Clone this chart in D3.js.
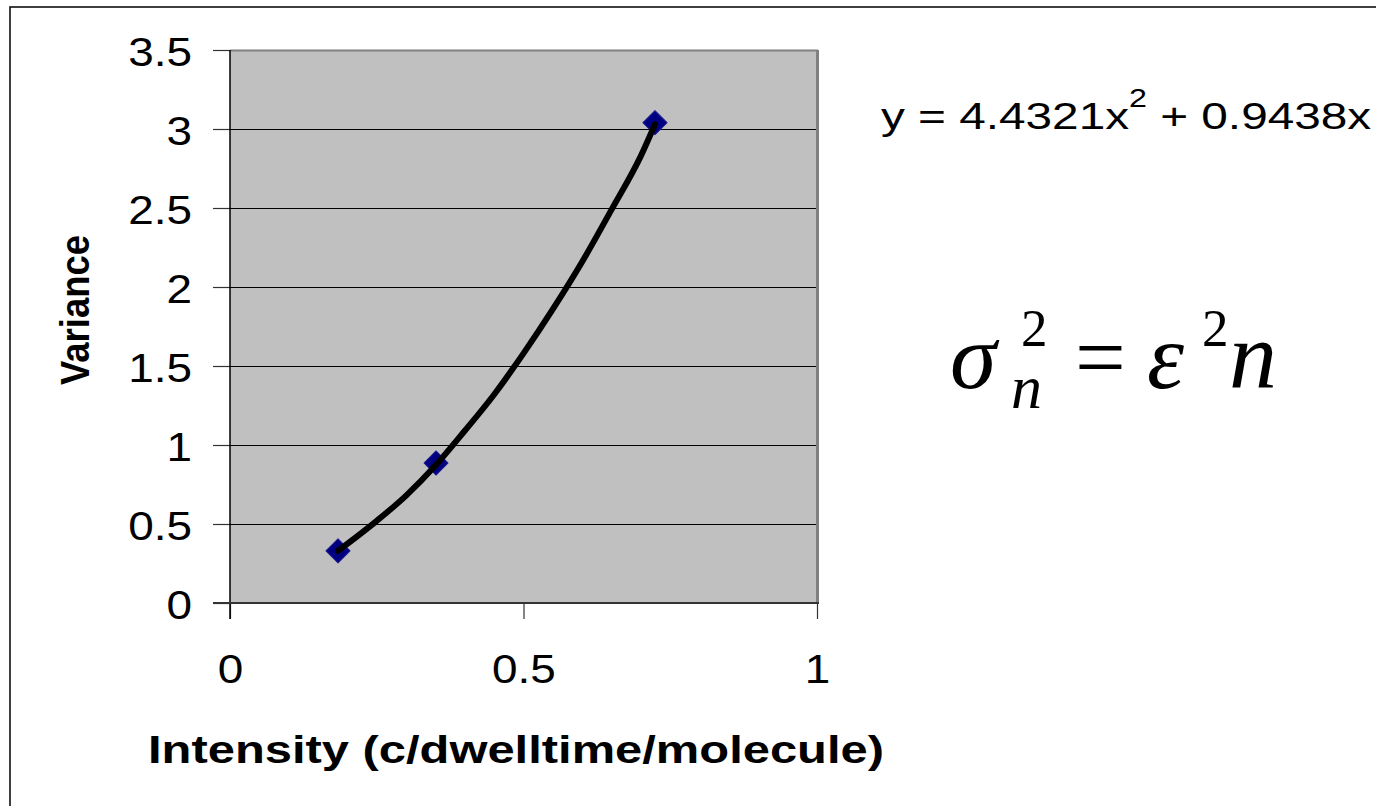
<!DOCTYPE html>
<html><head><meta charset="utf-8">
<script src="https://cdn.jsdelivr.net/npm/d3@7"></script>
<style>body{margin:0;background:#fff}svg{display:block}</style>
</head><body>
<svg id="c" width="1376" height="806"></svg>
<script>
// ---- data ----
const xValues = [0.184, 0.351, 0.724];
const yValues = [0.33, 0.886, 3.04];
// trendline points
const trendX = [0.184, 0.25, 0.3, 0.35, 0.4, 0.45, 0.5, 0.55, 0.6, 0.65, 0.7, 0.724];
const trendY = [0.33, 0.52, 0.68, 0.87, 1.09, 1.32, 1.58, 1.86, 2.16, 2.49, 2.83, 3.03];
const xTicks = [0, 0.5, 1];
const xTickLabels = ["0", "0.5", "1"];
const yTicks = [0, 0.5, 1, 1.5, 2, 2.5, 3, 3.5];
const yTickLabels = ["0", "0.5", "1", "1.5", "2", "2.5", "3", "3.5"];
const xTitle = "Intensity (c/dwelltime/molecule)";
const yTitle = "Variance";
const eqParts = ["y = 4.4321x", "2", " + 0.9438x"];

// ---- layout ----
const svg = d3.select("#c");
const W = 1376, H = 806;
const pL = 230, pR = 817, pT = 50, pB = 603;
const x = d3.scaleLinear().domain([0, 1]).range([pL, pR]);
const y = d3.scaleLinear().domain([0, 3.5]).range([pB, pT]);

svg.append("rect").attr("width", W).attr("height", H).attr("fill", "#fff");
// outer frame
svg.append("rect").attr("x", 10).attr("y", 7).attr("width", W + 20).attr("height", H + 20)
  .attr("fill", "none").attr("stroke", "#000").attr("stroke-width", 1.5);

// plot area
svg.append("rect").attr("x", pL).attr("y", pT).attr("width", pR - pL).attr("height", pB - pT)
  .attr("fill", "#C0C0C0");

// gridlines
svg.append("g").selectAll("line").data(yTicks.filter(d => d > 0 && d < 3.5)).join("line")
  .attr("x1", pL).attr("x2", pR)
  .attr("y1", d => Math.round(y(d)) + 0.5).attr("y2", d => Math.round(y(d)) + 0.5)
  .attr("stroke", "#000").attr("stroke-width", 1);

// plot border top/right (gray)
svg.append("line").attr("x1", pL).attr("x2", pR + 1).attr("y1", pT + 0.5).attr("y2", pT + 0.5)
  .attr("stroke", "#808080").attr("stroke-width", 2);
svg.append("line").attr("x1", pR + 0.5).attr("x2", pR + 0.5).attr("y1", pT).attr("y2", pB)
  .attr("stroke", "#808080").attr("stroke-width", 3);

// axes
const fmtY = d => yTickLabels[yTicks.indexOf(d)];
const fmtX = d => xTickLabels[xTicks.indexOf(d)];
const yAxis = svg.append("g").attr("transform", `translate(${pL},0)`)
  .call(d3.axisLeft(y).tickValues(yTicks).tickFormat(fmtY).tickSize(17).tickSizeOuter(0));
const xAxis = svg.append("g").attr("transform", `translate(0,${pB})`)
  .call(d3.axisBottom(x).tickValues(xTicks).tickFormat(fmtX).tickSize(16).tickSizeOuter(0));
[yAxis, xAxis].forEach(g => {
  g.select(".domain").remove();
  g.selectAll(".tick line").attr("stroke", "#333").attr("stroke-width", 1.2);
});
svg.append("line").attr("x1", pL).attr("x2", pL).attr("y1", pT).attr("y2", pB + 16)
  .attr("stroke", "#000").attr("stroke-width", 1.5);
svg.append("line").attr("x1", pL - 17).attr("x2", pR + 2).attr("y1", pB).attr("y2", pB)
  .attr("stroke", "#333").attr("stroke-width", 2);

yAxis.selectAll(".tick text")
  .attr("x", null).attr("dy", null)
  .attr("font-family", "Liberation Sans, Arial, sans-serif").attr("font-size", 41).attr("fill", "#000")
  .attr("text-anchor", "end")
  .attr("transform", "translate(-38,15) scale(1.12,1)");
xAxis.selectAll(".tick text")
  .attr("y", null).attr("dy", null)
  .attr("font-family", "Liberation Sans, Arial, sans-serif").attr("font-size", 41).attr("fill", "#000")
  .attr("text-anchor", "middle")
  .attr("transform", "translate(0,80) scale(1.12,1)");

// markers (drawn under the trendline)
const pts = xValues.map((v, i) => [v, yValues[i]]);
svg.append("g").selectAll("path").data(pts).join("path")
  .attr("d", d3.symbol().type(d3.symbolSquare).size(290))
  .attr("transform", d => `translate(${x(d[0])},${y(d[1])}) rotate(45)`)
  .attr("fill", "#000080").attr("stroke", "#1a1a90").attr("stroke-width", 1)
  .attr("stroke-linejoin", "round");

// trendline
const tpts = trendX.map((v, i) => [v, trendY[i]]);
svg.append("path").datum(tpts)
  .attr("d", d3.line().x(d => x(d[0])).y(d => y(d[1])).curve(d3.curveMonotoneX))
  .attr("fill", "none").attr("stroke", "#000").attr("stroke-width", 6).attr("stroke-linecap", "round")
  .attr("stroke-linejoin", "round");

// axis titles
svg.append("text").text(xTitle)
  .attr("x", (148 + 884) / 2).attr("y", 763)
  .attr("text-anchor", "middle")
  .attr("font-family", "Liberation Sans, Arial, sans-serif").attr("font-weight", "bold")
  .attr("font-size", 39).attr("textLength", 736).attr("lengthAdjust", "spacingAndGlyphs");
svg.append("text").text(yTitle)
  .attr("transform", "translate(89,310) rotate(-90)")
  .attr("text-anchor", "middle")
  .attr("font-family", "Liberation Sans, Arial, sans-serif").attr("font-weight", "bold")
  .attr("font-size", 40).attr("textLength", 150).attr("lengthAdjust", "spacingAndGlyphs");

// trendline equation
const eq = svg.append("text")
  .attr("transform", "translate(881,129) scale(1.29,1)")
  .attr("font-family", "Liberation Sans, Arial, sans-serif").attr("font-size", 37).attr("fill", "#000");
eq.append("tspan").text(eqParts[0]);
eq.append("tspan").text(eqParts[1]).attr("font-size", 25).attr("dy", -22);
eq.append("tspan").text(eqParts[2]).attr("dy", 22);

// formula sigma_n^2 = epsilon^2 n
const serif = "Liberation Serif, Times New Roman, serif";
const f = svg.append("g").attr("font-family", serif).attr("fill", "#000");
f.append("text").text("σ").attr("x", 950).attr("y", 388).attr("font-size", 94).attr("font-style", "italic");
f.append("text").text("2").attr("x", 1021).attr("y", 346).attr("font-size", 53);
f.append("text").text("n").attr("x", 1011).attr("y", 408).attr("font-size", 62).attr("font-style", "italic");
f.append("text").text("=").attr("x", 1075).attr("y", 388).attr("font-size", 90);
f.append("text").text("ε").attr("x", 1147).attr("y", 388).attr("font-size", 94).attr("font-style", "italic");
f.append("text").text("2").attr("x", 1202).attr("y", 346).attr("font-size", 53);
f.append("text").text("n").attr("x", 1229).attr("y", 388).attr("font-size", 96).attr("font-style", "italic");
</script>
</body></html>
